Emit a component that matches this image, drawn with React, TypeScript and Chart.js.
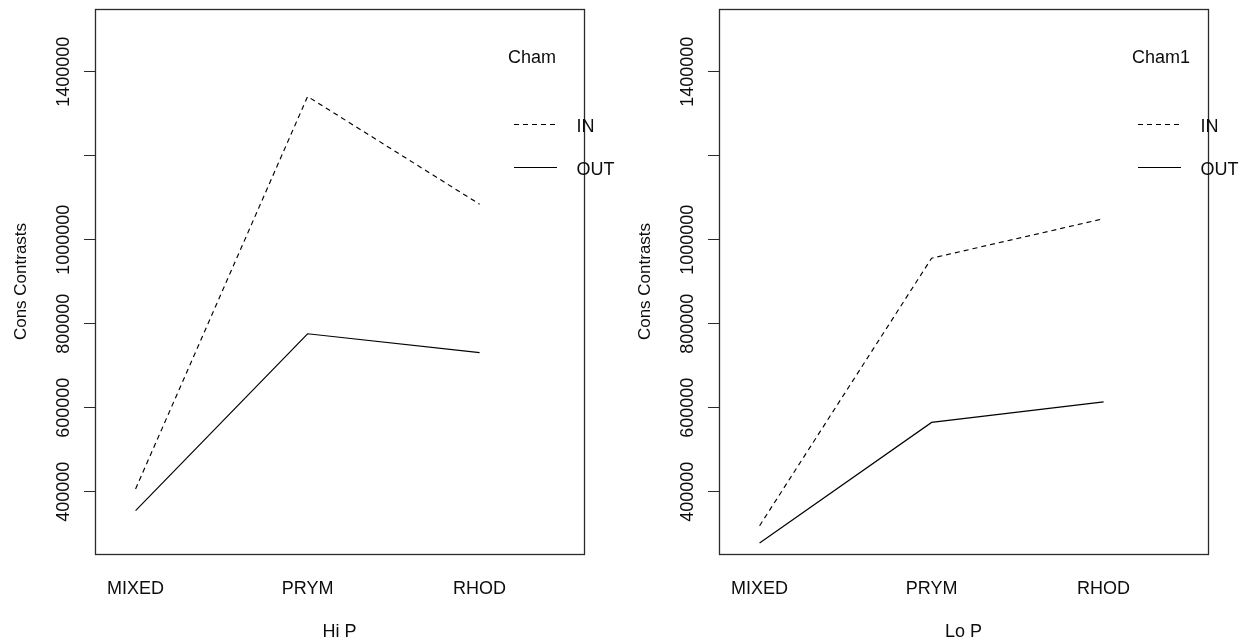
import React, { useEffect, useRef } from 'react';
import { Chart, registerables } from 'chart.js';

Chart.register(...registerables);

// ---- data ----
const categories = ['MIXED', 'PRYM', 'RHOD'];
const seriesNames = ['IN', 'OUT'];
const hiPIn = [406700, 1341000, 1084500];
const hiPOut = [355000, 776000, 731000];
const loPIn = [319000, 956000, 1050000];
const loPOut = [278000, 565000, 614000];
const yTicks = [400000, 600000, 800000, 1000000, 1200000, 1400000];
const yTickLabels = ['400000', '600000', '800000', '1000000', '', '1400000'];
const yMin = 251700;
const yMax = 1549300;
const xMin = 0.764;
const xMax = 3.607;

const FONT = '"Liberation Sans", Arial, Helvetica, sans-serif';
const INK = '#0d0d0d';

function makePlugin(xTitle: string, legendTitle: string) {
  return {
    id: 'rstyle',
    afterDraw(chart: any) {
      const { ctx, chartArea: a, scales } = chart;
      const ys = scales.y;
      const xs = scales.x;
      ctx.save();
      // plot box
      ctx.strokeStyle = '#2a2a2a';
      ctx.lineWidth = 1.3;
      ctx.strokeRect(
        Math.round(a.left) + 0.5,
        Math.round(a.top) + 0.5,
        Math.round(a.right - a.left),
        Math.round(a.bottom - a.top)
      );
      ctx.fillStyle = INK;
      ctx.font = '18px ' + FONT;
      // y tick labels (rotated, as in R)
      ys.ticks.forEach((t: any) => {
        const idx = yTicks.indexOf(t.value);
        const label = idx >= 0 ? yTickLabels[idx] : '';
        if (!label) return;
        const y = ys.getPixelForValue(t.value);
        ctx.save();
        ctx.translate(a.left - 26, y);
        ctx.rotate(-Math.PI / 2);
        ctx.textAlign = 'center';
        ctx.textBaseline = 'alphabetic';
        ctx.fillText(label, 0, 0);
        ctx.restore();
      });
      // x category labels
      ctx.textAlign = 'center';
      ctx.textBaseline = 'alphabetic';
      categories.forEach((c, i) => {
        ctx.fillText(c, xs.getPixelForValue(i + 1), a.bottom + 39.5);
      });
      // x title
      ctx.fillText(xTitle, (a.left + a.right) / 2, a.bottom + 82.5);
      // y title
      ctx.save();
      ctx.font = '17px ' + FONT;
      ctx.translate(a.left - 69.5, (a.top + a.bottom) / 2);
      ctx.rotate(-Math.PI / 2);
      ctx.textAlign = 'center';
      ctx.fillText('Cons Contrasts', 0, 0);
      ctx.restore();
      // legend
      ctx.textAlign = 'left';
      ctx.fillText(legendTitle, a.right - 76, a.top + 53.5);
      const rowLineY = [a.top + 114.5, a.top + 158];
      const rowTextY = [a.top + 122.5, a.top + 166];
      seriesNames.forEach((name, i) => {
        ctx.save();
        ctx.strokeStyle = '#000';
        ctx.lineWidth = 1.1;
        ctx.setLineDash(i === 0 ? [5, 4] : []);
        ctx.beginPath();
        ctx.moveTo(a.right - 70, Math.round(rowLineY[i]) + 0.5);
        ctx.lineTo(a.right - 27, Math.round(rowLineY[i]) + 0.5);
        ctx.stroke();
        ctx.restore();
        ctx.fillText(name, a.right - 7.5, rowTextY[i]);
      });
      ctx.restore();
    },
  };
}

function Panel(props: {
  left: number;
  width: number;
  xTitle: string;
  legendTitle: string;
  inVals: number[];
  outVals: number[];
}) {
  const ref = useRef<HTMLCanvasElement | null>(null);
  useEffect(() => {
    if (!ref.current) return;
    const toPts = (vals: number[]) => vals.map((v, i) => ({ x: i + 1, y: v }));
    const chart = new Chart(ref.current, {
      type: 'line',
      data: {
        datasets: [
          {
            label: seriesNames[0],
            data: toPts(props.inVals),
            borderColor: '#000',
            borderWidth: 1.15,
            borderDash: [5, 4],
            pointRadius: 0,
            tension: 0,
            fill: false,
          },
          {
            label: seriesNames[1],
            data: toPts(props.outVals),
            borderColor: '#000',
            borderWidth: 1.15,
            pointRadius: 0,
            tension: 0,
            fill: false,
          },
        ],
      },
      options: {
        responsive: false,
        animation: false,
        devicePixelRatio: 1,
        layout: { padding: { top: 9, right: props.width - 584, left: 0, bottom: 0 } },
        plugins: { legend: { display: false }, title: { display: false }, tooltip: { enabled: false } },
        events: [],
        scales: {
          x: {
            type: 'linear',
            min: xMin,
            max: xMax,
            ticks: { display: false },
            grid: { display: false },
            border: { display: false },
            afterFit: (s: any) => {
              s.height = 90;
            },
          },
          y: {
            type: 'linear',
            min: yMin,
            max: yMax,
            afterBuildTicks: (s: any) => {
              s.ticks = yTicks.map((v) => ({ value: v }));
            },
            ticks: { display: false },
            grid: {
              display: true,
              drawOnChartArea: false,
              drawTicks: true,
              tickLength: 11,
              color: '#2a2a2a',
              lineWidth: 1,
            },
            border: { display: false },
            afterFit: (s: any) => {
              s.width = 95;
            },
          },
        },
      },
      plugins: [makePlugin(props.xTitle, props.legendTitle)],
    } as any);
    return () => chart.destroy();
  }, []);
  return (
    <canvas
      ref={ref}
      width={props.width}
      height={644}
      style={{ position: 'absolute', left: props.left, top: 0, width: props.width, height: 644 }}
    />
  );
}

export default function App() {
  return (
    <div style={{ position: 'fixed', left: 0, top: 0, width: 1246, height: 644, background: '#fff' }}>
      <Panel left={0} width={623} xTitle="Hi P" legendTitle="Cham" inVals={hiPIn} outVals={hiPOut} />
      <Panel left={624} width={622} xTitle="Lo P" legendTitle="Cham1" inVals={loPIn} outVals={loPOut} />
    </div>
  );
}
